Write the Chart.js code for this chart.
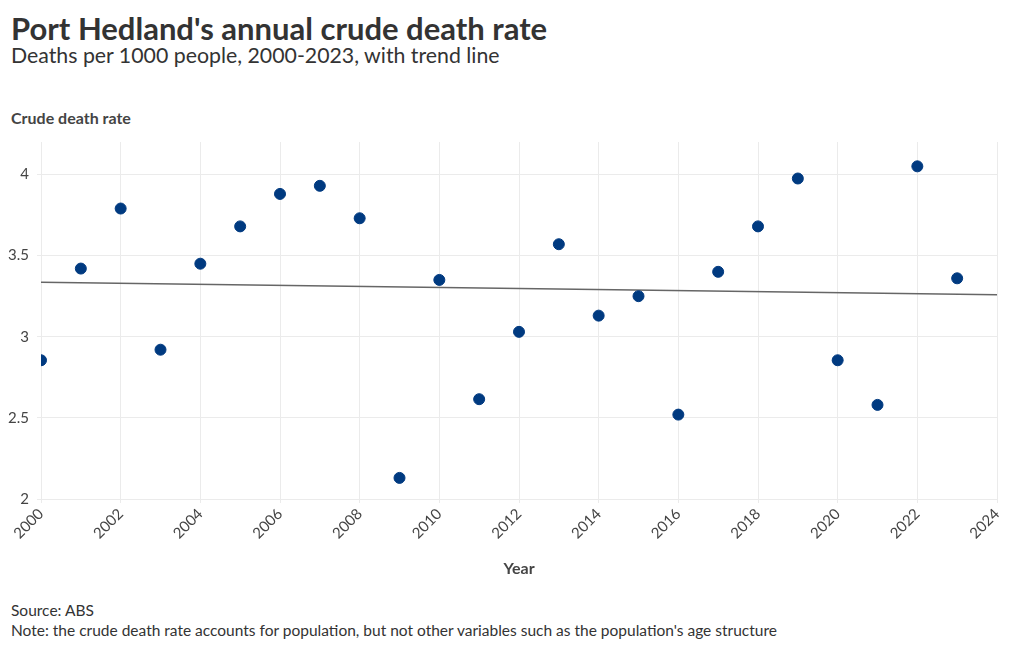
<!DOCTYPE html>
<html>
<head>
<meta charset="utf-8">
<script src="https://cdn.jsdelivr.net/npm/chart.js@4"></script>
<style>
  html, body { margin: 0; padding: 0; background: #fff; }
  body { width: 1020px; height: 650px; position: relative; overflow: hidden; font-family: Lato, sans-serif; color: #333; }
  .title { position: absolute; left: 11px; top: 9px; font-size: 31px; font-weight: 700; color: #333; }
  .subtitle { position: absolute; left: 11px; top: 42px; font-size: 21.3px; color: #333; }
  .ylabel { position: absolute; left: 11px; top: 108px; font-size: 16px; font-weight: 700; color: #444; }
  .foot { position: absolute; left: 11px; font-size: 15.5px; color: #333; }
  #wrap { position: absolute; left: 0; top: 125px; width: 1020px; height: 465px; }
</style>
</head>
<body>
<div class="title">Port Hedland's annual crude death rate</div>
<div class="subtitle">Deaths per 1000 people, 2000-2023, with trend line</div>
<div class="ylabel">Crude death rate</div>
<div id="wrap"><canvas id="c"></canvas></div>
<div class="foot" style="top:601px">Source: ABS</div>
<div class="foot" style="top:621px">Note: the crude death rate accounts for population, but not other variables such as the population's age structure</div>
<script>
(function () {
    'use strict';

    // ── Data ──────────────────────────────────────────────────────────────────
    var years = [2000, 2001, 2002, 2003, 2004, 2005, 2006, 2007, 2008, 2009, 2010, 2011,
                 2012, 2013, 2014, 2015, 2016, 2017, 2018, 2019, 2020, 2021, 2022, 2023];
    var deathRate = [2.855, 3.42, 3.79, 2.92, 3.45, 3.68, 3.88, 3.93, 3.73, 2.13, 3.35, 2.615,
                     3.03, 3.57, 3.13, 3.25, 2.52, 3.40, 3.68, 3.975, 2.855, 2.58, 4.05, 3.36];
    var trendYears = [2000, 2024];
    var trendValues = [3.335, 3.258];
    var yTicks = [2, 2.5, 3, 3.5, 4];

    var points = years.map(function (y, i) { return { x: y, y: deathRate[i] }; });
    var trend = trendYears.map(function (y, i) { return { x: y, y: trendValues[i] }; });

    var tickFont = { family: 'Lato, sans-serif', size: 15 };

    new Chart(document.getElementById('c').getContext('2d'), {
        type: 'scatter',
        data: {
            datasets: [{
                type: 'line',
                data: trend,
                borderColor: '#666',
                borderWidth: 1.5,
                pointRadius: 0,
                order: 2,
            }, {
                data: points,
                backgroundColor: '#003a80',
                borderColor: '#003a80',
                pointRadius: 5.5,
                order: 1,
            }],
        },
        options: {
            responsive: true,
            maintainAspectRatio: false,
            animation: false,
            layout: { padding: { top: 5, right: 23, left: 0, bottom: 0 } },
            plugins: { legend: { display: false }, tooltip: { enabled: false } },
            scales: {
                x: {
                    type: 'linear',
                    min: 2000,
                    max: 2024,
                    afterFit: function (s) { s.height = 91; },
                    ticks: {
                        stepSize: 2,
                        color: '#444',
                        font: tickFont,
                        maxRotation: 45,
                        minRotation: 45,
                        padding: 2,
                        callback: function (v) { return String(v); },
                    },
                    grid: { color: '#ebebeb', drawTicks: true, tickLength: 4 },
                    border: { display: false },
                    title: {
                        display: true,
                        text: 'Year',
                        color: '#444',
                        font: { family: 'Lato, sans-serif', size: 16, weight: 'bold' },
                        padding: { top: 0, bottom: 12 },
                    },
                },
                y: {
                    min: 2,
                    max: 4.2,
                    afterFit: function (s) { s.width = 41; },
                    afterBuildTicks: function (s) {
                        s.ticks = yTicks.map(function (v) { return { value: v }; });
                    },
                    ticks: {
                        color: '#444',
                        font: tickFont,
                        padding: 8,
                        callback: function (v) { return String(v); },
                    },
                    grid: { color: '#ebebeb', drawTicks: true, tickLength: 4 },
                    border: { display: false },
                },
            },
        },
    });
})();
</script>
</body>
</html>
